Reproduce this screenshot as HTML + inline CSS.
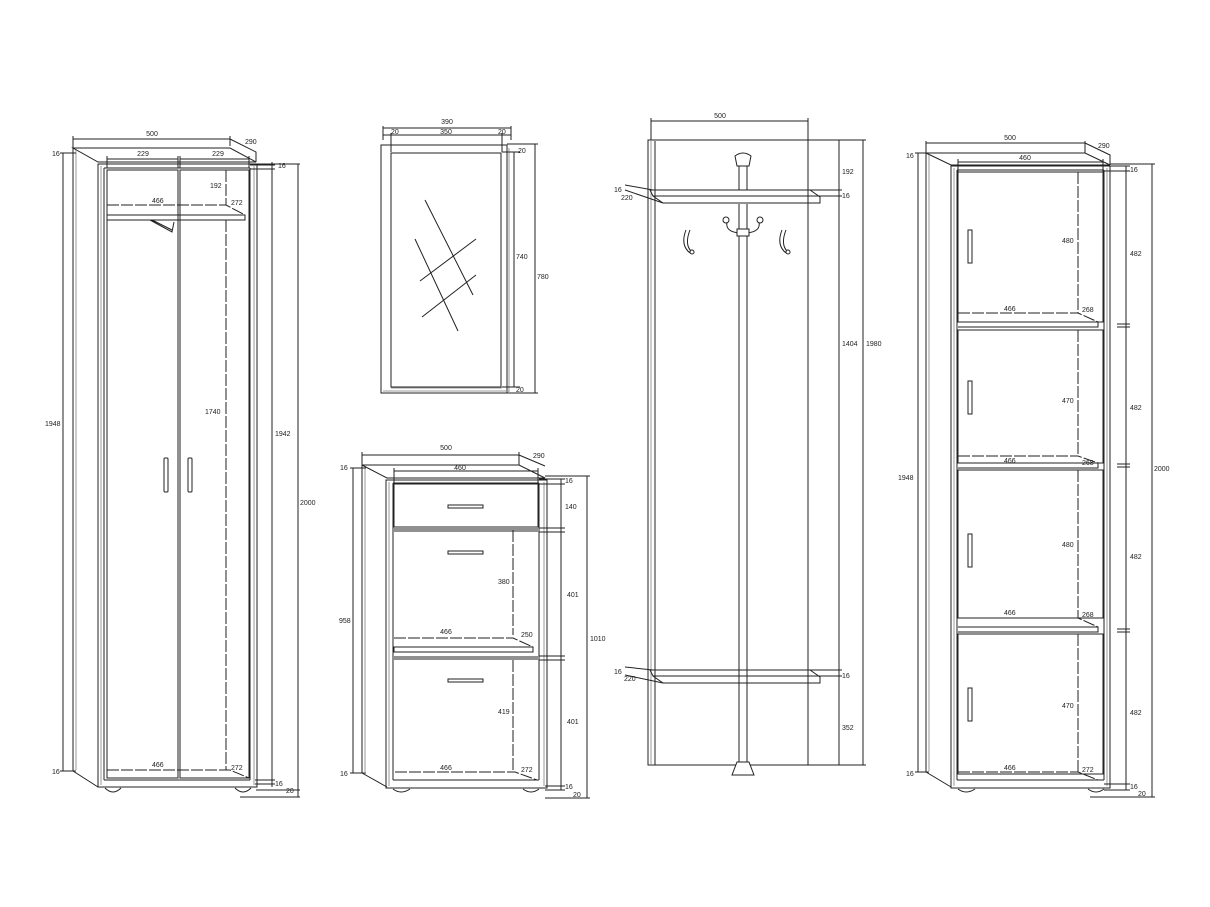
<!DOCTYPE html>
<html><head><meta charset="utf-8"><style>
html,body{margin:0;padding:0;background:#fff;}
svg{display:block;}
text{font-family:"Liberation Sans",sans-serif;font-size:7px;fill:#222;}
.l{stroke:#222;stroke-width:1;fill:none;}
.g{stroke:#999;stroke-width:1;fill:none;}
.d{stroke:#222;stroke-width:1;fill:none;stroke-dasharray:12 2;}
.f{fill:#fff;stroke:#222;stroke-width:1;}
</style></head><body>
<svg width="1210" height="907" viewBox="0 0 1210 907" xmlns="http://www.w3.org/2000/svg">
<rect width="1210" height="907" fill="#fff"/>

<!-- ============ WARDROBE 1 ============ -->
<g>
<path class="l" d="M73,148 L230,148 L256,162 L98,162 Z"/>
<path class="l" d="M73,148 V771 L98,787"/>
<path class="g" d="M76,150 V770"/>
<rect class="l" x="98" y="164" width="159" height="623"/>
<path class="g" d="M101,166 V785 M254,166 V785"/>
<path class="l" d="M104,168 H250 M104,168 V780 M250,168 V780 M104,780 H250"/>
<rect class="l" x="107" y="170" width="71" height="608"/>
<rect class="l" x="180" y="170" width="69" height="608"/>
<path class="d" d="M107,205 H226 L245,215"/>
<path class="l" d="M107,215 H245 V220 H107 Z"/>
<path class="l" d="M150,220 L172,232 L174,222 M152,220 L172,230"/>
<path class="d" d="M226,170 V205 M226,220 V770"/>
<path class="d" d="M107,770 H230 L249,778"/>
<rect class="l" x="164" y="458" width="4" height="34" rx="1"/>
<rect class="l" x="188" y="458" width="4" height="34" rx="1"/>
<path class="l" d="M105,788 Q113,796 121,788 M235,788 Q243,796 251,788"/>
<path class="l" d="M73,136 V148 M230,136 V146 M73,139 H230 M230,139 L256,152 V162"/>
<text x="152" y="136" text-anchor="middle">500</text><text x="245" y="144">290</text>
<path class="l" d="M107,159 H178 M180,159 H249 M107,156 V168 M178,156 V168 M180,156 V168 M249,156 V168"/>
<text x="143" y="156" text-anchor="middle">229</text><text x="218" y="156" text-anchor="middle">229</text>
<text x="210" y="188">192</text><text x="152" y="203">466</text><text x="231" y="205">272</text>
<text x="205" y="414">1740</text><text x="152" y="767">466</text><text x="231" y="770">272</text>
<path class="l" d="M63,153 V771 M60,153 H76 M60,771 H76"/>
<text x="45" y="426">1948</text><text x="52" y="156">16</text><text x="52" y="774">16</text>
<path class="l" d="M250,165 H275 M250,169 H275 M272,162 V787 M255,780 H275 M255,784 H275"/>
<text x="278" y="168">16</text><text x="275" y="436">1942</text><text x="275" y="786">16</text>
<path class="l" d="M256,164 H300 M298,164 V797 M256,790 H300 M240,797 H300"/>
<text x="300" y="505">2000</text><text x="286" y="793">20</text>
</g>

<!-- ============ MIRROR ============ -->
<g>
<rect class="l" x="381" y="145" width="126" height="248"/>
<path class="g" d="M509,148 V392 M383,391 H509"/>
<rect class="l" x="391" y="153" width="110" height="234"/>
<path class="g" d="M391,388 H502"/>
<path class="l" d="M425,200 L473,295 M415,239 L458,331 M420,281 L476,239 M422,317 L476,275"/>
<path class="l" d="M383,126 V140 M511,126 V140 M383,128 H511 M383,135 H511 M391,133 V152 M502,133 V152"/>
<text x="447" y="124" text-anchor="middle">390</text>
<text x="391" y="134">20</text><text x="446" y="134" text-anchor="middle">350</text><text x="498" y="134">20</text>
<path class="l" d="M502,152 H520 M502,387 H520 M514,152 V387 M507,144 H538 M507,393 H538 M535,144 V393"/>
<text x="518" y="153">20</text><text x="516" y="259">740</text><text x="537" y="279">780</text><text x="516" y="392">20</text>
</g>

<!-- ============ SHOE CABINET ============ -->
<g>
<path class="l" d="M362,465 L519,465 L545,478 L387,478 Z"/>
<path class="l" d="M362,465 V773 L387,787"/>
<path class="g" d="M365,467 V772"/>
<rect class="l" x="386" y="480" width="161" height="308"/>
<path class="g" d="M389,482 V786 M544,482 V786"/>
<path class="l" d="M393,483 H539 M393,483 V780 M539,483 V780 M393,780 H539"/>
<rect class="l" x="394" y="484" width="144" height="43"/>
<path class="l" d="M394,529 H538 M394,531 H538"/>
<path class="l" d="M394,657 H538 M394,659 H538"/>
<path class="d" d="M394,638 H513 L533,647"/>
<path class="l" d="M394,647 H533 V652 H394 Z"/>
<path class="d" d="M513,530 V635 M513,660 V772"/>
<path class="d" d="M395,772 H515 L537,780"/>
<rect class="l" x="448" y="505" width="35" height="3"/>
<rect class="l" x="448" y="551" width="35" height="3"/>
<rect class="l" x="448" y="679" width="35" height="3"/>
<path class="l" d="M393,789 Q401,795 410,789 M523,789 Q531,795 539,789"/>
<path class="l" d="M362,452 V465 M519,452 V465 M362,455 H519 M519,455 L545,466"/>
<text x="446" y="450" text-anchor="middle">500</text><text x="533" y="458">290</text>
<path class="l" d="M394,471 H538 M394,468 V484 M538,468 V484"/>
<text x="460" y="470" text-anchor="middle">460</text>
<path class="l" d="M353,468 V773 M350,468 H366 M350,773 H366"/>
<text x="340" y="470">16</text><text x="339" y="623">958</text><text x="340" y="776">16</text>
<path class="l" d="M539,479 H565 M539,484 H565 M539,528 H565 M539,532 H565 M539,656 H565 M539,660 H565 M561,479 V790 M545,786 H565 M545,790 H565"/>
<text x="565" y="483">16</text><text x="565" y="509">140</text><text x="567" y="597">401</text><text x="567" y="724">401</text><text x="565" y="789">16</text>
<path class="l" d="M545,476 H590 M587,476 V798 M545,798 H590"/>
<text x="590" y="641">1010</text><text x="573" y="797">20</text>
<text x="498" y="584">380</text><text x="498" y="714">419</text>
<text x="446" y="634" text-anchor="middle">466</text><text x="521" y="637">250</text>
<text x="446" y="770" text-anchor="middle">466</text><text x="521" y="772">272</text>
</g>

<!-- ============ COAT RACK ============ -->
<g>
<rect class="l" x="648" y="140" width="160" height="625"/>
<path class="g" d="M651,141 V764"/>
<path class="l" d="M655,141 V765"/>
<path class="l" d="M650,190 H810 L820,197 V203 H663 L653,196 Z M653,196 H820"/>
<path class="l" d="M650,670 H810 L820,677 V683 H663 L653,676 Z M653,676 H820"/>
<rect class="f" x="739" y="160" width="8" height="30"/>
<path class="l" d="M739,204 V762 M747,204 V762 M739,683 V670 M747,683 V670"/>
<path class="f" d="M735,156 Q743,150 751,156 L749,166 H737 Z"/>
<path class="f" d="M737,762 H749 L754,775 H732 Z"/>
<path class="l" d="M727,222 Q725,232 740,233 M759,222 Q761,232 746,233"/>
<circle class="f" cx="726" cy="220" r="3"/><circle class="f" cx="760" cy="220" r="3"/>
<rect class="f" x="737" y="229" width="12" height="7"/>
<path class="l" d="M686,230 Q680,245 690,253 M690,230 Q684,245 692,252"/>
<circle class="f" cx="692" cy="252" r="2"/>
<path class="l" d="M782,230 Q776,245 786,253 M786,230 Q780,245 788,252"/>
<circle class="f" cx="788" cy="252" r="2"/>
<path class="l" d="M651,118 V140 M808,118 V140 M651,121 H808"/>
<text x="720" y="118" text-anchor="middle">500</text>
<path class="l" d="M808,140 H842 M808,190 H842 M808,196 H842 M839,140 V765 M808,670 H842 M808,676 H842 M762,765 H866 M808,140 H866 M863,140 V765"/>
<text x="842" y="174">192</text><text x="842" y="198">16</text><text x="842" y="346">1404</text><text x="866" y="346">1980</text>
<text x="842" y="678">16</text><text x="842" y="730">352</text>
<path class="l" d="M625,185 L653,190 M625,190 L663,203 M625,667 L653,670 M625,675 L663,683"/>
<text x="614" y="192">16</text><text x="621" y="200">220</text>
<text x="614" y="674">16</text><text x="624" y="681">220</text>
</g>

<!-- ============ RIGHT CABINET ============ -->
<g>
<path class="l" d="M926,153 L1085,153 L1110,165 L951,165 Z"/>
<path class="l" d="M926,153 V772 L951,787"/>
<path class="g" d="M929,155 V771"/>
<rect class="l" x="951" y="166" width="159" height="622"/>
<path class="g" d="M954,168 V786 M1107,168 V786"/>
<path class="l" d="M957,170 H1104 M957,170 V780 M1104,170 V780 M957,780 H1104"/>
<rect class="l" x="958" y="172" width="145" height="150"/>
<rect class="l" x="958" y="330" width="145" height="133"/>
<rect class="l" x="958" y="470" width="145" height="148"/>
<rect class="l" x="958" y="634" width="145" height="140"/>
<path class="l" d="M958,322 H1098 V327 H958 M958,463 H1098 V468 H958 M958,627 H1098 V632 H958"/>
<path class="d" d="M958,313 H1078 L1098,322 M958,456 H1078 L1098,463 M958,618 H1078 L1098,627 M958,772 H1078 L1098,780"/>
<path class="d" d="M1078,172 V313 M1078,330 V456 M1078,470 V618 M1078,634 V772"/>
<rect class="l" x="968" y="230" width="4" height="33"/>
<rect class="l" x="968" y="381" width="4" height="33"/>
<rect class="l" x="968" y="534" width="4" height="33"/>
<rect class="l" x="968" y="688" width="4" height="33"/>
<path class="l" d="M958,789 Q966,795 975,789 M1088,789 Q1096,795 1104,789"/>
<path class="l" d="M926,141 V153 M1085,141 V153 M926,143 H1085 M1085,143 L1110,155 V165"/>
<text x="1010" y="140" text-anchor="middle">500</text><text x="1098" y="148">290</text>
<path class="l" d="M958,162 H1103 M958,159 V172 M1103,159 V172"/>
<text x="1025" y="160" text-anchor="middle">460</text>
<path class="l" d="M918,153 V772 M915,153 H929 M915,772 H929"/>
<text x="906" y="158">16</text><text x="898" y="480">1948</text><text x="906" y="776">16</text>
<path class="l" d="M1104,166 H1130 M1104,171 H1130 M1126,166 V790 M1117,324 H1130 M1117,327 H1130 M1117,464 H1130 M1117,467 H1130 M1117,629 H1130 M1117,632 H1130 M1104,784 H1130 M1104,790 H1130"/>
<text x="1130" y="172">16</text><text x="1130" y="256">482</text><text x="1130" y="410">482</text><text x="1130" y="559">482</text><text x="1130" y="715">482</text><text x="1130" y="789">16</text>
<path class="l" d="M1110,164 H1155 M1152,164 V797 M1090,797 H1155"/>
<text x="1154" y="471">2000</text><text x="1138" y="796">20</text>
<text x="1062" y="243">480</text><text x="1062" y="403">470</text><text x="1062" y="547">480</text><text x="1062" y="708">470</text>
<text x="1004" y="311">466</text><text x="1082" y="312">268</text>
<text x="1004" y="463">466</text><text x="1082" y="465">268</text>
<text x="1004" y="615">466</text><text x="1082" y="617">268</text>
<text x="1004" y="770">466</text><text x="1082" y="772">272</text>
</g>
</svg>
</body></html>
